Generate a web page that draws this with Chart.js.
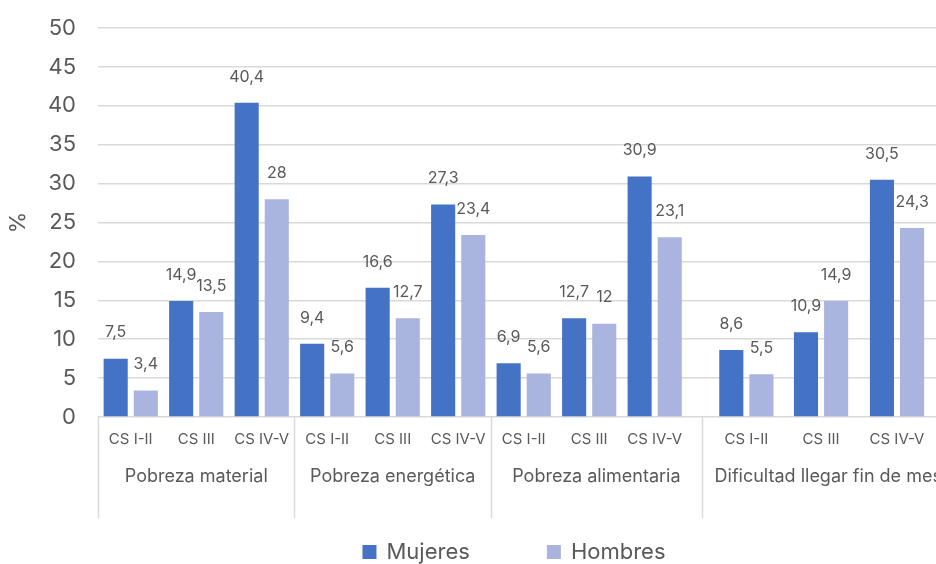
<!DOCTYPE html>
<html>
<head>
<meta charset="utf-8">
<script src="https://cdn.jsdelivr.net/npm/chart.js@4.4.1/dist/chart.umd.min.js"></script>
<style>
  html, body { margin: 0; padding: 0; background: #fff; overflow: hidden; width: 936px; height: 564px; }
  #wrap { position: relative; width: 1028px; height: 564px; }
  canvas { display: block; }
</style>
</head>
<body>
<div id="wrap"><canvas id="c" width="1028" height="564"></canvas></div>
<script>
// Poverty indicators (%) by social class, women vs men
const groups  = ['Pobreza material', 'Pobreza energética', 'Pobreza alimentaria', 'Dificultad llegar fin de mes'];
const classes = ['CS I-II', 'CS III', 'CS IV-V'];
const mujeres = [7.5, 14.9, 40.4,  9.4, 16.6, 27.3,  6.9, 12.7, 30.9,  8.6, 10.9, 30.5];
const hombres = [3.4, 13.5, 28,    5.6, 12.7, 23.4,  5.6, 12,   23.1,  5.5, 14.9, 24.3];
const yTicks  = [0, 5, 10, 15, 20, 25, 30, 35, 40, 45, 50];

// Axis layout: slot centres on the x scale and the edges between indicator groups
const slotX      = [0, 1, 2, 3, 4, 5, 6, 7, 8, 9.4, 10.54, 11.7];
const groupEdges = [-0.5, 2.5, 5.5, 8.72, 12.58];

const FONT = 'Inter, "Open Sans", sans-serif';
const TEXT = '#595959';
const GRID = '#d9d9d9';

const fmt = v => String(v).replace('.', ',');

// value labels above each bar
const barValues = {
  id: 'barValues',
  afterDatasetsDraw(chart) {
    const ctx = chart.ctx;
    ctx.save();
    ctx.font = '16px ' + FONT;
    ctx.fillStyle = TEXT;
    ctx.textAlign = 'center';
    ctx.textBaseline = 'middle';
    chart.data.datasets.forEach((ds, di) => {
      chart.getDatasetMeta(di).data.forEach((bar, i) => {
        ctx.fillText(fmt(ds.data[i].y), bar.x, bar.y - 26);
      });
    });
    ctx.restore();
  }
};

// second label row (indicator names), group dividers and the legend
const groupAxis = {
  id: 'groupAxis',
  afterDraw(chart) {
    const ctx = chart.ctx;
    const xs = chart.scales.x;
    const base = chart.chartArea.bottom;
    ctx.save();
    ctx.strokeStyle = GRID;
    ctx.lineWidth = 1.5;
    groupEdges.forEach(e => {
      const px = Math.round(xs.getPixelForValue(e)) + 0.5;
      ctx.beginPath();
      ctx.moveTo(px, base);
      ctx.lineTo(px, base + 101);
      ctx.stroke();
    });
    ctx.font = '18px ' + FONT;
    ctx.fillStyle = TEXT;
    ctx.textAlign = 'center';
    ctx.textBaseline = 'middle';
    groups.forEach((g, i) => {
      const mid = (groupEdges[i] + groupEdges[i + 1]) / 2;
      ctx.fillText(g, xs.getPixelForValue(mid), base + 60);
    });

    // legend
    const box = 14, gap = 10, spacing = 77;
    ctx.font = '22px ' + FONT;
    ctx.textAlign = 'left';
    const items = chart.data.datasets.map(ds => ({
      label: ds.label, color: ds.backgroundColor, w: box + gap + ctx.measureText(ds.label).width
    }));
    const total = items.reduce((s, it) => s + it.w, 0) + spacing * (items.length - 1);
    let x = chart.width / 2 - total / 2;
    const cy = 552;
    items.forEach(it => {
      ctx.fillStyle = it.color;
      ctx.fillRect(x, cy - box / 2, box, box);
      ctx.fillStyle = TEXT;
      ctx.fillText(it.label, x + box + gap, cy);
      x += it.w + spacing;
    });
    ctx.restore();
  }
};

new Chart(document.getElementById('c'), {
  type: 'bar',
  data: {
    datasets: [
      { label: 'Mujeres', data: mujeres.map((v, i) => ({ x: slotX[i], y: v })), backgroundColor: '#4472c4' },
      { label: 'Hombres', data: hombres.map((v, i) => ({ x: slotX[i], y: v })), backgroundColor: '#a9b5df' }
    ]
  },
  options: {
    responsive: false,
    animation: false,
    devicePixelRatio: 1,
    categoryPercentage: 0.92,
    barPercentage: 0.8,
    layout: { padding: { top: 28, right: 0, bottom: 0, left: 0 } },
    plugins: {
      legend: { display: false },
      tooltip: { enabled: false }
    },
    scales: {
      x: {
        type: 'linear',
        min: -0.5,
        max: 13.7,
        offset: false,
        grid: { display: false, drawTicks: false },
        border: { display: false },
        afterBuildTicks: scale => { scale.ticks = slotX.map(v => ({ value: v })); },
        afterFit: scale => { scale.height = 147; },
        ticks: {
          autoSkip: false,
          maxRotation: 0,
          padding: 13,
          color: TEXT,
          font: { family: FONT, size: 15 },
          callback: (value, index) => classes[index % classes.length]
        }
      },
      y: {
        min: 0,
        max: 50,
        afterBuildTicks: scale => { scale.ticks = yTicks.map(v => ({ value: v })); },
        afterFit: scale => { scale.width = 98; scale.paddingTop = 0; scale.paddingBottom = 0; },
        grid: { color: GRID, lineWidth: 1.5, drawTicks: false },
        border: { display: false },
        ticks: {
          padding: 22,
          color: TEXT,
          font: { family: FONT, size: 22 }
        },
        title: {
          display: true,
          text: '%',
          color: TEXT,
          font: { family: FONT, size: 22 },
          padding: { top: 5, bottom: 0 }
        }
      }
    }
  },
  plugins: [barValues, groupAxis]
});
</script>
</body>
</html>
